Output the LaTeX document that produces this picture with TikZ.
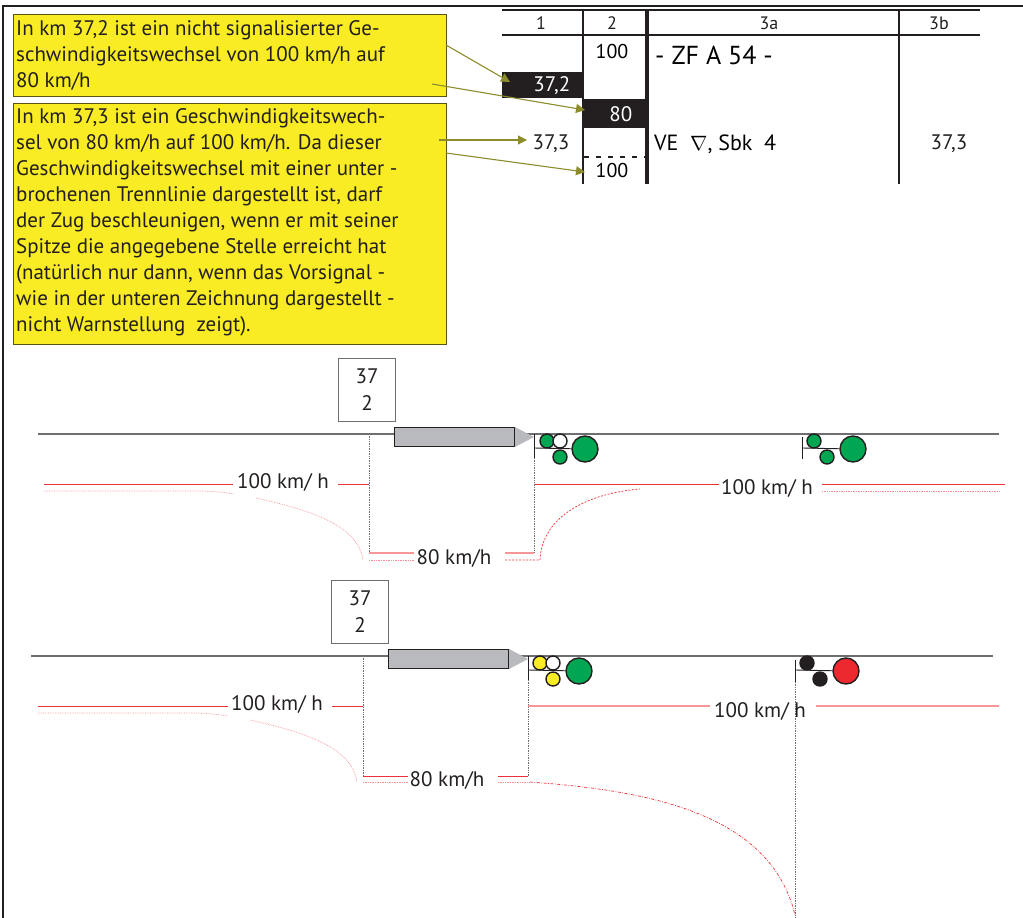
\documentclass[tikz,border=0pt]{standalone}
\usepackage{fontspec}
\setmainfont{PT Sans}
\usetikzlibrary{arrows.meta}
\definecolor{noteYellow}{RGB}{249, 236, 36}
\definecolor{noteEdge}{RGB}{90, 84, 20}
\definecolor{noteArrow}{RGB}{140, 140, 45}
\definecolor{inkBlack}{RGB}{35, 31, 32}
\definecolor{signalGreen}{RGB}{0, 166, 81}
\definecolor{signalRed}{RGB}{237, 41, 48}
\definecolor{speedRed}{RGB}{238, 50, 56}
\definecolor{speedPale}{RGB}{247, 150, 152}
\definecolor{trainGray}{RGB}{184, 186, 189}
\definecolor{trackGray}{RGB}{110, 110, 112}

\begin{document}
\begin{tikzpicture}[
    x=1pt, y=-1pt,
    font=\fontsize{21}{24}\selectfont\color{inkBlack},
    >=Stealth,
    note/.style={
        draw=noteEdge,
        fill=noteYellow,
        rectangle,
        line width=1.2pt,
        minimum width=433pt,
        anchor=north west,
        inner sep=0pt
    },
    notetext/.style={
        anchor=north west,
        align=left,
        inner sep=0pt,
        font=\fontsize{21}{26}\selectfont\color{inkBlack}
    },
    pointer/.style={
        draw=noteArrow,
        line width=1.1pt,
        -{Triangle[length=9pt,width=9pt,fill=noteArrow]}
    },
    rule/.style={draw=inkBlack, line width=1.7pt},
    cell/.style={inner sep=0pt},
    headcell/.style={cell, font=\fontsize{18}{20}\selectfont\color{inkBlack}},
    blackcell/.style={
        fill=inkBlack,
        inner ysep=0pt,
        minimum height=26pt,
        anchor=north west,
        align=right,
        font=\fontsize{21}{24}\selectfont\color{white}
    },
    track/.style={draw=trackGray, line width=1.4pt},
    kmbox/.style={
        draw=trackGray,
        fill=white,
        line width=1.0pt,
        minimum width=57pt,
        minimum height=63pt,
        align=center,
        anchor=north west,
        font=\fontsize{21}{27}\selectfont\color{inkBlack}
    },
    train/.style={
        draw=inkBlack,
        fill=trainGray,
        line width=1.0pt,
        minimum width=120pt,
        minimum height=19pt,
        anchor=north west,
        inner sep=0pt
    },
    nose/.style={draw=none, fill=trainGray},
    post/.style={draw=inkBlack, line width=0.9pt},
    lamp/.style={
        circle,
        draw=inkBlack,
        line width=1.4pt,
        minimum size=14pt,
        inner sep=0pt
    },
    mainlamp/.style={lamp, minimum size=26pt},
    speedlabel/.style={inner sep=0pt, font=\fontsize{21}{24}\selectfont\color{inkBlack}},
    speed/.style={draw=speedRed, line width=0.8pt},
    speedlight/.style={draw=speedPale, line width=1.3pt},
    curve/.style={draw=speedRed!55, line width=0.7pt, densely dotted},
    curvestrong/.style={draw=speedRed, line width=0.7pt, dash pattern=on 2pt off 1.5pt},
    drop/.style={draw=trackGray, line width=0.7pt, densely dotted}
]
\useasboundingbox (0,0) rectangle (1023,918);

% ================= FRAME =================
\coordinate (frameA) at (1023,6);
\coordinate (frameB) at (3,6);
\coordinate (frameC) at (3,918);
\draw[draw=inkBlack, line width=1.8pt] (frameA) -- (frameB) -- (frameC);

% ================= NOTES =================
\node[note, minimum height=82pt] (note1) at (13,14) {};
\node[note, minimum height=241pt] (note2) at (13,103) {};
\node[notetext] (text1) at (16,20) {In km 37,2 ist ein nicht signalisierter Ge-\\schwindigkeitswechsel von 100 km/h auf\\80 km/h};
\node[notetext] (text2) at (16,108) {In km 37,3 ist ein Geschwindigkeitswech-\\sel von 80 km/h auf 100 km/h. Da dieser\\Geschwindigkeitswechsel mit einer unter -\\brochenen Trennlinie dargestellt ist, darf\\der Zug beschleunigen, wenn er mit seiner\\Spitze die angegebene Stelle erreicht hat\\(natürlich nur dann, wenn das Vorsignal -\\wie in der unteren Zeichnung dargestellt -\\nicht Warnstellung~~zeigt).};

% ================= TABLE =================
\coordinate (topL) at (502,10);
\coordinate (topR) at (980,10);
\coordinate (headL) at (502,35);
\coordinate (headR) at (980,35);
\coordinate (col2a) at (583,10);
\coordinate (col2b) at (583,184);
\coordinate (col3a) at (647,10);
\coordinate (col3b) at (647,184);
\coordinate (col4a) at (899,10);
\coordinate (col4b) at (899,184);
\coordinate (dashL) at (584,157);
\coordinate (dashR) at (645,157);

\node[blackcell, text width=55pt, inner xsep=13pt] (cell372) at (502,72) {\raisebox{-1pt}{37,2}};
\node[blackcell, text width=35pt, inner xsep=14pt, minimum height=29pt] (cell80) at (583,99) {80};

\draw[rule] (topL) -- (topR);
\draw[rule] (headL) -- (headR);
\draw[rule] (col2a) -- (col2b);
\draw[rule, line width=3.6pt] (col3a) -- (col3b);
\draw[rule] (col4a) -- (col4b);
\draw[rule, line width=2.6pt, dash pattern=on 5pt off 7pt] (dashL) -- (dashR);

\node[headcell] (head1) at (541,23) {1};
\node[headcell] (head2) at (612,23) {2};
\node[headcell] (head3a) at (769,23) {3a};
\node[headcell] (head3b) at (939,23) {3b};
\node[cell, font=\fontsize{20}{22}\selectfont] (v100a) at (612,51) {100};
\node[cell, anchor=west, font=\fontsize{26}{28}\selectfont] (zfa) at (655,55) {- ZF A 54 -};
\node[cell] (km373) at (551,144) {37,3};
\node[cell, anchor=west, font=\fontsize{22}{24}\selectfont] (veline) at (654,144) {VE~~$\nabla$, Sbk~~4};
\node[cell] (km373b) at (949,144) {37,3};
\node[cell, font=\fontsize{20}{22}\selectfont] (v100b) at (612,170) {100};

% ================= POINTERS =================
\coordinate (from1) at (446,45);
\coordinate (to1) at (510,82);
\coordinate (from2) at (432,84);
\coordinate (to2) at (585,110);
\coordinate (from3) at (439,140);
\coordinate (to3) at (527,140);
\coordinate (from4) at (446,153);
\coordinate (to4) at (585,172);
\draw[pointer] (from1) -- (to1);
\draw[pointer] (from2) -- (to2);
\draw[pointer] (from3) -- (to3);
\draw[pointer] (from4) -- (to4);

% ================= UPPER TRACK =================
\coordinate (trackA) at (38,434);
\coordinate (trackB) at (999,434);
\draw[track] (trackA) -- (trackB);
\node[kmbox] (kmA) at (338,358) {37\\2};
\node[train] (trainA) at (394,427) {};
\fill[nose] (trainA.north east) -- (534,437) -- (trainA.south east) -- cycle;

\coordinate (postA1) at (534,434);
\coordinate (postA2) at (534,458);
\coordinate (postA3) at (802,437);
\coordinate (postA4) at (802,459);
\draw[post] (postA1) -- (postA2);
\draw[post] (postA3) -- (postA4);
\node[mainlamp, fill=signalGreen] (mainA1) at (585,449) {};
\node[mainlamp, fill=signalGreen] (mainA2) at (853,449) {};
\draw[post] (534,448) -- (mainA1);
\draw[post] (802,448) -- (mainA2);
\node[lamp, fill=signalGreen] (lampA1) at (547,441) {};
\node[lamp, fill=white] (lampA2) at (560,441) {};
\node[lamp, fill=signalGreen] (lampA3) at (560,457) {};
\node[lamp, fill=signalGreen] (lampA4) at (814,441) {};
\node[lamp, fill=signalGreen] (lampA5) at (827,457) {};

\node[speedlabel] (speedA1) at (283,482) {100 km/ h};
\node[speedlabel] (speedA2) at (454,558) {80 km/h};
\node[speedlabel] (speedA3) at (767,488) {100 km/ h};

\coordinate (dropA1) at (369,434);
\coordinate (dropA2) at (369,553);
\coordinate (dropA3) at (534,458);
\coordinate (dropA4) at (534,553);
\draw[drop] (dropA1) -- (dropA2);
\draw[drop] (dropA3) -- (dropA4);

\draw[speed] (44,484) -- (233,484);
\draw[speed] (338,484) -- (369,484);
\draw[speed] (535,484) -- (719,484);
\draw[speed] (822,484) -- (1005,484);
\draw[speedlight] (369,553) -- (414,553);
\draw[speedlight] (505,553) -- (534,553);
\draw[curve] (44,491) -- (198,491) .. controls (210,491) and (222,492) .. (234,494);
\draw[curve] (256,498) .. controls (310,510) and (358,525) .. (363,560);
\draw[curve] (369,560) -- (414,560);
\draw[curvestrong] (505,560) -- (540,560) .. controls (542,515) and (590,493) .. (640,489);
\draw[curve] (822,491) -- (1000,491);

% ================= LOWER TRACK =================
\coordinate (trackC) at (31,656);
\coordinate (trackD) at (993,656);
\draw[track] (trackC) -- (trackD);
\node[kmbox] (kmB) at (331,580) {37\\2};
\node[train] (trainB) at (388,649) {};
\fill[nose] (trainB.north east) -- (528,659) -- (trainB.south east) -- cycle;

\coordinate (postB1) at (528,656);
\coordinate (postB2) at (528,680);
\coordinate (postB3) at (795,660);
\coordinate (postB4) at (795,682);
\draw[post] (postB1) -- (postB2);
\draw[post] (postB3) -- (postB4);
\node[mainlamp, fill=signalGreen] (mainB1) at (579,671) {};
\node[mainlamp, fill=signalRed] (mainB2) at (846,671) {};
\draw[post] (528,670) -- (mainB1);
\draw[post] (795,670) -- (mainB2);
\node[lamp, fill=noteYellow] (lampB1) at (540,663) {};
\node[lamp, fill=white] (lampB2) at (553,663) {};
\node[lamp, fill=noteYellow] (lampB3) at (553,679) {};
\node[lamp, fill=inkBlack] (lampB4) at (807,663) {};
\node[lamp, fill=inkBlack] (lampB5) at (820,679) {};

\coordinate (dropB1) at (363,656);
\coordinate (dropB2) at (363,776);
\coordinate (dropB3) at (528,680);
\coordinate (dropB4) at (528,776);
\coordinate (dropB5) at (795,682);
\coordinate (dropB6) at (795,918);
\draw[drop] (dropB1) -- (dropB2);
\draw[drop] (dropB3) -- (dropB4);
\draw[drop] (dropB5) -- (dropB6);

\draw[speed] (38,706) -- (228,706);
\draw[speed] (332,706) -- (363,706);
\draw[speedlight] (528,706) -- (710,706);
\draw[speedlight] (816,706) -- (999,706);
\draw[speed] (363,776) -- (408,776);
\draw[speed] (498,776) -- (528,776);
\draw[curve] (38,713) -- (192,713) .. controls (204,713) and (216,714) .. (228,716);
\draw[curve] (250,720) .. controls (304,732) and (352,747) .. (357,782);
\draw[curve] (363,782) -- (408,782);
\draw[curve] (498,782) -- (530,782);
\draw[curvestrong, dash pattern=on 3pt off 1.5pt on 0.8pt off 1.5pt] (530,782) .. controls (640,790) and (770,810) .. (795,915);

\node[speedlabel] (speedB1) at (277,704) {100 km/ h};
\node[speedlabel] (speedB2) at (447,780) {80 km/h};
\node[speedlabel] (speedB3) at (760,711) {100 km/ h};

\end{tikzpicture}
\end{document}
